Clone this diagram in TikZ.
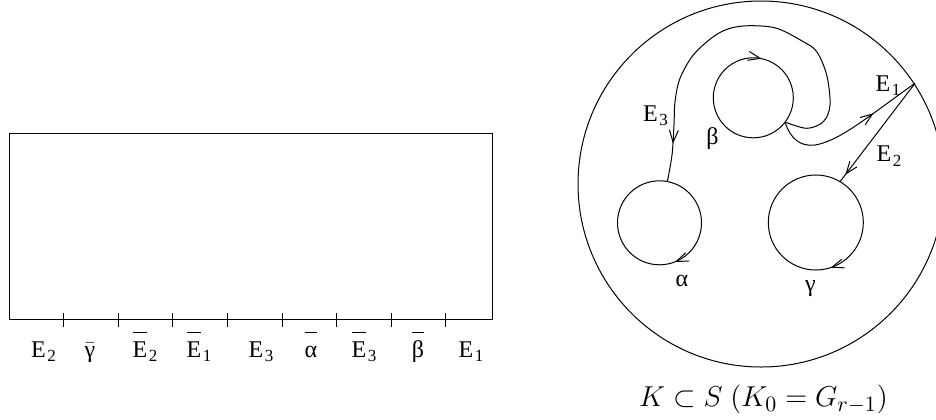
\documentclass[tikz,border=0pt]{standalone}
\usepackage[no-math]{fontspec}
\setmainfont{Liberation Serif}
\usetikzlibrary{arrows.meta,decorations.markings}

\newcommand*{\lsub}[1]{\kern0.8pt{\fontsize{8.5}{8.5}\selectfont\raisebox{-0.55ex}{#1}}}
\newcommand*{\obar}[1]{\hbox{\setbox0\hbox{#1}\rlap{\rule{0pt}{0pt}\rule[12pt]{\wd0}{0.5pt}}\box0}}

\tikzset{
  lbl/.style={font=\fontsize{12}{14}\selectfont,inner sep=0pt},
  curve/.style={line width=0.5pt},
  midarrow/.style={postaction={decorate},decoration={markings,
    mark=at position #1 with {\arrow{Straight Barb[length=6pt,width=4.5pt]}}}},
}

\begin{document}
\begin{tikzpicture}[x=0.5pt,y=-0.5pt]
	\useasboundingbox (0,0) rectangle (936,419);

	% the cut-open surface
	\draw[curve] (9,133) rectangle (492.7,319.5);
	\foreach \t in {63.3,118,172.7,227.3,282,336.7,391,445.7}
	  \draw[curve] (\t,313) -- (\t,327);

	\node[lbl,anchor=base] (e2) at (43.5,357) {E\lsub{2}};
	\node[lbl,anchor=base] (gb) at (90,357) {$\bar{\hbox{γ}}$};
	\node[lbl,anchor=base] (e2b) at (145,357) {\obar{E}\lsub{2}};
	\node[lbl,anchor=base] (e1b) at (199,357) {\obar{E}\lsub{1}};
	\node[lbl,anchor=base] (e3) at (261,357) {E\lsub{3}};
	\node[lbl,anchor=base] (ab) at (311,357) {\obar{α}};
	\node[lbl,anchor=base] (e3b) at (364,357) {\obar{E}\lsub{3}};
	\node[lbl,anchor=base] (bb) at (418,357) {\obar{β}};
	\node[lbl,anchor=base] (e1) at (471,357) {E\lsub{1}};

	% the surface S with its boundary circles
	\draw[curve] (761,184) circle (183);
	\draw[curve,midarrow=0.783] (753.3,97.8) circle (40);
	\draw[curve,midarrow=0.19] (659.5,222.8) circle (42);
	\draw[curve,midarrow=0.2] (815.8,222.5) circle (47.5);

	\coordinate (bout) at (785,122);
	\coordinate (atop) at (667.3,181.7);
	\coordinate (gtop) at (840,181.7);
	\coordinate (vtx) at (915,83.3);

	\draw[curve,midarrow=0.9] plot[smooth,tension=0.55] coordinates {(bout) (806.7,128.3) (823.3,121.7) (830,105) (826.7,75) (816.7,51.7) (803.3,41.7) (776.7,28.3) (750,25.7) (730,28.3) (713.3,36.7) (693.3,55) (680,78.3) (675,101.7) (674,125) (672,155) (atop)};
	\draw[curve,midarrow=0.68] (bout) .. controls (790,138) and (800,147) .. (815,145) .. controls (840,141) and (870,115) .. (vtx);
	\draw[curve,midarrow=0.93] (vtx) -- (gtop);

	\node[lbl,anchor=base] (le3) at (655.5,121.7) {E\lsub{3}};
	\node[lbl] (lb) at (712.5,138.7) {β};
	\node[lbl,anchor=base] (le1) at (888,91.7) {E\lsub{1}};
	\node[lbl,anchor=base] (le2) at (889,161.7) {E\lsub{2}};
	\node[lbl,anchor=base] (la) at (682,286) {α};
	\node[lbl] (lg) at (810.5,289) {γ};

	\node[font=\fontsize{15.5}{18}\selectfont,anchor=base] (cap) at (763.5,406.7) {$K\subset S\ (K_0=G_{r-1})$};
\end{tikzpicture}
\end{document}
